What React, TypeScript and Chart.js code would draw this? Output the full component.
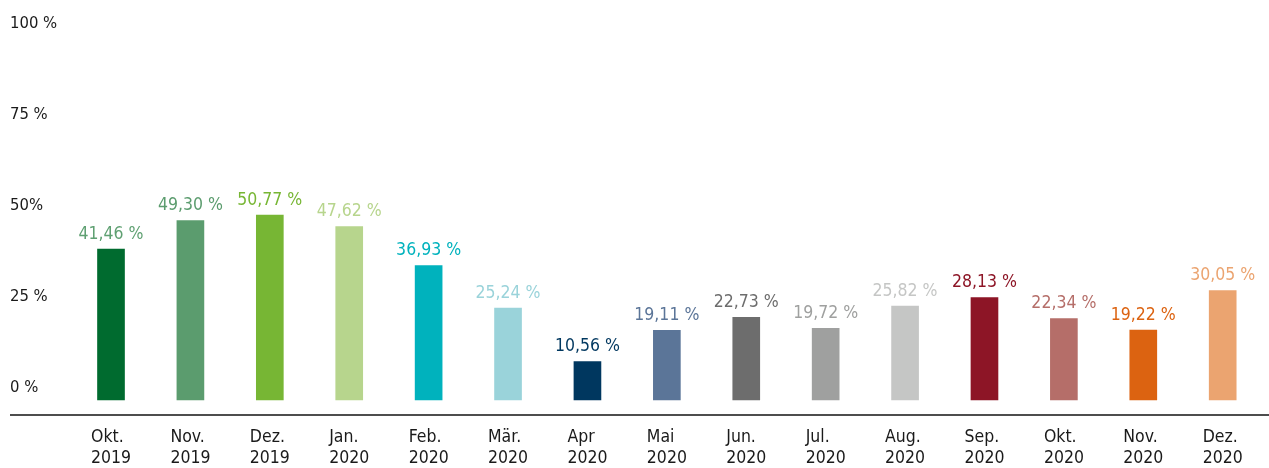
import React, { useEffect, useRef } from 'react';
import { Chart, registerables } from 'chart.js';

Chart.register(...registerables);

const categories: string[][] = [
  ['Okt.', '2019'], ['Nov.', '2019'], ['Dez.', '2019'], ['Jan.', '2020'], ['Feb.', '2020'],
  ['Mär.', '2020'], ['Apr', '2020'], ['Mai', '2020'], ['Jun.', '2020'], ['Jul.', '2020'],
  ['Aug.', '2020'], ['Sep.', '2020'], ['Okt.', '2020'], ['Nov.', '2020'], ['Dez.', '2020'],
];

const values: number[] = [
  41.46, 49.30, 50.77, 47.62, 36.93, 25.24, 10.56, 19.11,
  22.73, 19.72, 25.82, 28.13, 22.34, 19.22, 30.05,
];

const barColors: string[] = [
  '#006B2F', '#5B9C6E', '#77B634', '#B7D58D', '#00B2BD',
  '#9AD3DA', '#00375F', '#5B7598', '#6D6D6D', '#9FA09F',
  '#C5C6C5', '#8D1526', '#B56E69', '#DC6311', '#EBA470',
];

const labelColors: string[] = [
  '#5FA072', '#5B9C6E', '#77B634', '#B7D58D', '#00B2BD',
  '#9AD3DA', '#00375F', '#5B7598', '#6D6D6D', '#9FA09F',
  '#C5C6C5', '#8D1526', '#B56E69', '#DC6311', '#EBA470',
];

const yTickValues: number[] = [0, 25, 50, 75, 100];
const yTickLabels: string[] = ['0 %', '25 %', '50%', '75 %', '100 %'];

const FONT = "'DejaVu Sans', sans-serif";
const STRETCH = 'condensed';

const fmt = (v: number) => v.toFixed(2).replace('.', ',') + ' %';

const valueLabelPlugin = {
  id: 'valueLabels',
  afterDatasetsDraw(chart: any) {
    const { ctx } = chart;
    const meta = chart.getDatasetMeta(0);
    ctx.save();
    ctx.font = `${STRETCH} 17.5px ${FONT}`;
    try { (ctx as any).fontStretch = 'condensed'; } catch (e) { /* ignore */ }
    ctx.textAlign = 'center';
    ctx.textBaseline = 'alphabetic';
    meta.data.forEach((bar: any, i: number) => {
      ctx.fillStyle = labelColors[i];
      ctx.fillText(fmt(values[i]), bar.x, bar.y - 10.5);
    });
    ctx.restore();
  },
};

const baseLinePlugin = {
  id: 'baseLine',
  afterDraw(chart: any) {
    const { ctx, chartArea } = chart;
    const y = chart.scales.y;
    ctx.save();
    ctx.strokeStyle = '#4d4d4d';
    ctx.lineWidth = 2;
    ctx.beginPath();
    ctx.moveTo(y.left, chartArea.bottom);
    ctx.lineTo(chart.width, chartArea.bottom);
    ctx.stroke();
    ctx.restore();
  },
};

export default function App() {
  const canvasRef = useRef<HTMLCanvasElement | null>(null);

  useEffect(() => {
    if (!canvasRef.current) return;
    const chart = new Chart(canvasRef.current, {
      type: 'bar',
      data: {
        labels: categories,
        datasets: [
          {
            data: values,
            backgroundColor: barColors,
            borderWidth: 0,
            barThickness: 27,
          },
        ],
      },
      options: {
        animation: false,
        responsive: true,
        maintainAspectRatio: false,
        devicePixelRatio: 1,
        layout: { padding: { left: 10, right: 6.6, top: 36, bottom: 0 } },
        plugins: {
          legend: { display: false },
          tooltip: { enabled: false },
        },
        scales: {
          x: {
            type: 'category',
            offset: true,
            grid: { display: false },
            border: { display: false },
            ticks: {
              autoSkip: false,
              maxRotation: 0,
              minRotation: 0,
              align: 'start',
              labelOffset: -20,
              padding: 4,
              color: '#1a1a1a',
              font: { family: FONT, size: 17.5, weight: STRETCH, lineHeight: 1.2 },
            },
            afterFit: (s: any) => {
              s.height = 53;
              s.paddingLeft = 0;
              s.paddingRight = 0;
            },
          },
          y: {
            min: -4.12,
            max: 100,
            grid: { display: false },
            border: { display: false },
            afterBuildTicks: (s: any) => {
              s.ticks = yTickValues.map((v) => ({ value: v }));
            },
            ticks: {
              crossAlign: 'far',
              labelOffset: -12,
              color: '#1a1a1a',
              font: { family: FONT, size: 16.5, weight: STRETCH },
              callback: (v: any) => {
                const idx = yTickValues.indexOf(Number(v));
                return idx >= 0 ? yTickLabels[idx] : '';
              },
            },
            afterFit: (s: any) => {
              s.width = 61.3;
            },
          },
        },
      },
      plugins: [valueLabelPlugin, baseLinePlugin],
    } as any);
    return () => chart.destroy();
  }, []);

  return (
    <div style={{ position: 'fixed', left: 0, top: 0, width: 1269, height: 468, background: '#fff' }}>
      <canvas ref={canvasRef} />
    </div>
  );
}
